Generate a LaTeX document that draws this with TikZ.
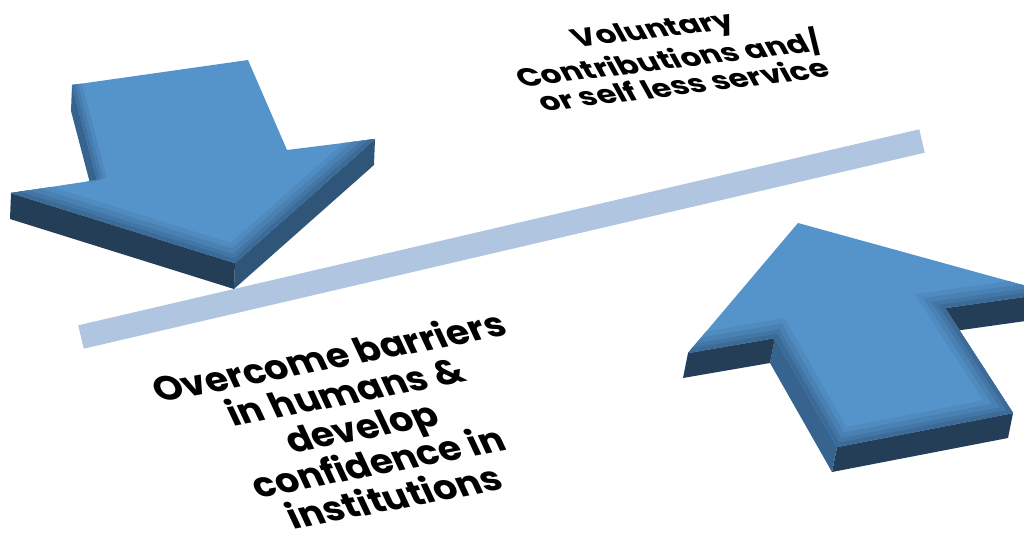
\documentclass[tikz,border=0pt]{standalone}
\usepackage{fontspec}
\setmainfont{Poppins}
\usetikzlibrary{calc}
\definecolor{topblue}{RGB}{85,148,203}
\definecolor{bevelB}{RGB}{58,102,146}
\definecolor{sidedark}{RGB}{36,62,88}
\definecolor{sidemid}{RGB}{47,86,121}
\definecolor{sideleft}{RGB}{55,99,143}
\definecolor{barblue}{RGB}{176,198,224}
\begin{document}
\begin{tikzpicture}[x=1pt,y=-1pt,
  txt/.style={align=center, text=black},
  topface/.style={fill=topblue},
  bev/.style={line join=miter, miter limit=20}]
\useasboundingbox (0,0) rectangle (1024,540);
\fill[white] (0,0) rectangle (1024,540);

% divider bar
\coordinate (barL) at (81,337);
\coordinate (barR) at (922,141);
\draw[barblue, line width=24pt] (barL) -- (barR);

% ---------- down arrow (top left) ----------
\coordinate (A) at (72,85);
\coordinate (B) at (248,60);
\coordinate (C) at (287,150);
\coordinate (D) at (375,139);
\coordinate (E) at (235,263);
\coordinate (F) at (11,193);
\coordinate (G) at (97,180);
\fill[sideleft] (G) -- (A) -- ($(A)+(-1,26)$) -- ($(G)+(-1,26)$) -- cycle;
\fill[sidemid] (D) -- (E) -- ($(E)+(-1,26)$) -- ($(D)+(-1,26)$) -- cycle;
\fill[sidedark] (E) -- (F) -- ($(F)+(-1,26)$) -- ($(E)+(-1,26)$) -- cycle;
\fill[topface] (A) -- (B) -- (C) -- (D) -- (E) -- (F) -- (G) -- cycle;
\begin{scope}
  \clip (A) -- (B) -- (C) -- (D) -- (E) -- (F) -- (G) -- cycle;
  \foreach \w/\m in {36/80, 26/58, 16/35, 8/10}{
    \draw[bev, draw=topblue!\m!bevelB, line width=\w pt]
      ($(D)!-0.2!(E)$) -- (E) -- ($(F)!-0.2!(E)$);
  }
  \foreach \w/\m in {20/75, 12/50, 5/25}{
    \draw[bev, draw=topblue!\m!bevelB, line width=\w pt] (G) -- ($(A)!-0.2!(G)$);
  }
\end{scope}

% ---------- up arrow (bottom right) ----------
\coordinate (T) at (798,223);
\coordinate (R) at (1052,293);
\coordinate (J1) at (945,308);
\coordinate (S1) at (1013,413);
\coordinate (S2) at (837,447);
\coordinate (J2) at (775,338);
\coordinate (L) at (688,353);
\fill[sidedark] (R) -- (J1) -- ($(J1)+(-5,25)$) -- ($(R)+(-5,25)$) -- cycle;
\fill[sidedark] (S1) -- (S2) -- ($(S2)+(-5,25)$) -- ($(S1)+(-5,25)$) -- cycle;
\fill[sideleft] (S2) -- (J2) -- ($(J2)+(-5,25)$) -- ($(S2)+(-5,25)$) -- cycle;
\fill[sidedark] (J2) -- (L) -- ($(L)+(-5,25)$) -- ($(J2)+(-5,25)$) -- cycle;
\fill[topface] (T) -- (R) -- (J1) -- (S1) -- (S2) -- (J2) -- (L) -- cycle;
\begin{scope}
  \clip (T) -- (R) -- (J1) -- (S1) -- (S2) -- (J2) -- (L) -- cycle;
  \foreach \w/\m in {36/80, 26/58, 16/35, 8/10}{
    \draw[bev, draw=topblue!\m!bevelB, line width=\w pt]
      ($(R)!-0.2!(J1)$) -- (J1) -- (S1) -- (S2) -- (J2) -- ($(L)!-0.2!(J2)$);
  }
\end{scope}

% ---------- texts ----------
\node[txt, rotate=7, xslant=-0.4, xscale=1.2,
      font=\bfseries\fontsize{26}{27}\selectfont] (toptext) at (668,57)
  {Voluntary\\Contributions and/\\or self less service};
\node[txt, rotate=11, xslant=-0.25, xscale=1.05,
      font=\bfseries\fontsize{35}{37.5}\selectfont] (bottext) at (361,426)
  {Overcome barriers\\in humans \&\\develop\\confidence in\\institutions};
\end{tikzpicture}
\end{document}
